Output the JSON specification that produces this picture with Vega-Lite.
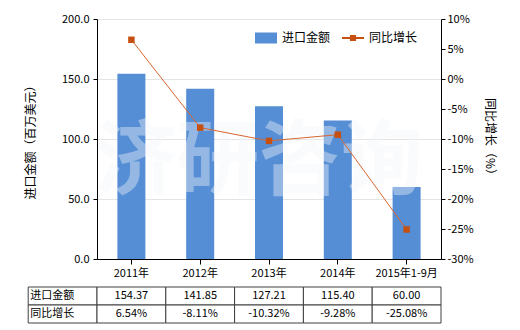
{
  "$schema": "https://vega.github.io/schema/vega-lite/v6.json",
  "padding": {"left": 24, "top": 13, "right": 5, "bottom": 5},
  "background": "white",
  "config": {
    "font": "Noto Sans CJK SC",
    "view": {"stroke": null},
    "axis": {"labelColor": "#000", "titleColor": "#000", "domainColor": "#000", "tickColor": "#000", "labelFontSize": 11, "titleFontSize": 12, "titleFontWeight": "normal", "labelFont": "Noto Sans CJK SC", "titleFont": "Noto Sans CJK SC", "labelOverlap": false},
    "legend": {"labelFont": "Noto Sans CJK SC", "labelColor": "#000"}
  },
  "datasets": {
    "main": [
      {"year": "2011年", "amount": 154.37, "yoy": 6.54},
      {"year": "2012年", "amount": 141.85, "yoy": -8.11},
      {"year": "2013年", "amount": 127.21, "yoy": -10.32},
      {"year": "2014年", "amount": 115.40, "yoy": -9.28},
      {"year": "2015年1-9月", "amount": 60.00, "yoy": -25.08}
    ],
    "table": [
      {"row": "进口金额", "col": "header", "text": "进口金额"},
      {"row": "同比增长", "col": "header", "text": "同比增长"},
      {"row": "进口金额", "col": "2011年", "text": "154.37"},
      {"row": "进口金额", "col": "2012年", "text": "141.85"},
      {"row": "进口金额", "col": "2013年", "text": "127.21"},
      {"row": "进口金额", "col": "2014年", "text": "115.40"},
      {"row": "进口金额", "col": "2015年1-9月", "text": "60.00"},
      {"row": "同比增长", "col": "2011年", "text": "6.54%"},
      {"row": "同比增长", "col": "2012年", "text": "-8.11%"},
      {"row": "同比增长", "col": "2013年", "text": "-10.32%"},
      {"row": "同比增长", "col": "2014年", "text": "-9.28%"},
      {"row": "同比增长", "col": "2015年1-9月", "text": "-25.08%"}
    ]
  },
  "spacing": 8,
  "vconcat": [
    {
      "width": 344,
      "height": 240,
      "layer": [
        {
          "layer": [
            {
              "data": {"name": "main"},
              "mark": {"type": "bar", "size": 28},
              "encoding": {
                "x": {"field": "year", "type": "nominal", "sort": null, "scale": {"paddingInner": 0, "paddingOuter": 0}, "axis": {"title": null, "labelAngle": 0, "labelPadding": 3, "tickSize": 5, "grid": false}},
                "y": {"field": "amount", "type": "quantitative", "title": "进口金额（百万美元）", "scale": {"domain": [0, 200]}, "axis": {"title": "进口金额（百万美元）", "values": [0, 50, 100, 150, 200], "format": ".1f", "grid": true, "gridColor": "#e4e4e4", "tickSize": 4, "labelPadding": 4, "titlePadding": 24}},
                "color": {
                  "datum": "进口金额", "type": "nominal",
                  "scale": {"domain": ["进口金额", "同比增长"], "range": ["#558ed5", "#c5500f"]},
                  "legend": {
                    "orient": "none", "legendX": 158, "legendY": 8, "direction": "horizontal", "title": null,
                    "symbolSize": 484, "labelFontSize": 12, "labelOffset": 5, "columnPadding": 11,
                    "encode": {
                      "symbols": {
                        "update": {
                          "shape": {"signal": "datum.value === '进口金额' ? 'M-1,-0.5H1V0.5H-1Z' : 'M-1,-0.1H1V0.1H-1Z M-0.28,-0.28H0.28V0.28H-0.28Z'"},
                          "fill": {"signal": "datum.value === '进口金额' ? '#558ed5' : '#c5500f'"},
                          "strokeWidth": {"value": 0},
                          "opacity": {"value": 1}
                        }
                      }
                    }
                  }
                }
              }
            },
            {
              "data": {"values": [{"wm": "济研咨询"}]},
              "mark": {"type": "text", "fontSize": 82, "fontWeight": "bold", "fill": "#f4f6fa", "opacity": 0.4, "baseline": "middle", "dx": -10},
              "encoding": {
                "x": {"datum": "2013年", "type": "nominal"},
                "y": {"datum": 80, "type": "quantitative", "title": "进口金额（百万美元）", "axis": {"title": "进口金额（百万美元）", "values": [0, 50, 100, 150, 200], "format": ".1f", "grid": true, "gridColor": "#e4e4e4", "tickSize": 4, "labelPadding": 4, "titlePadding": 24}},
                "text": {"field": "wm"}
              }
            }
          ]
        },
        {
          "layer": [
            {
              "data": {"name": "main"},
              "mark": {"type": "line", "strokeWidth": 1, "stroke": "#d8652e"},
              "encoding": {
                "x": {"field": "year", "type": "nominal", "sort": null},
                "y": {"field": "yoy", "type": "quantitative", "title": "同比增长（%）", "scale": {"domain": [-30, 10]}, "axis": {"orient": "right", "title": "同比增长（%）", "values": [-30, -25, -20, -15, -10, -5, 0, 5, 10], "labelExpr": "datum.value + '%'", "grid": false, "tickSize": 4, "labelPadding": 2, "titlePadding": 9}}
              }
            },
            {
              "data": {"name": "main"},
              "mark": {"type": "point", "shape": "square", "filled": true, "size": 42, "opacity": 1},
              "encoding": {
                "x": {"field": "year", "type": "nominal", "sort": null},
                "y": {"field": "yoy", "type": "quantitative", "title": "同比增长（%）", "axis": {"orient": "right", "title": "同比增长（%）", "values": [-30, -25, -20, -15, -10, -5, 0, 5, 10], "labelExpr": "datum.value + '%'", "grid": false, "tickSize": 4, "labelPadding": 2, "titlePadding": 9}},
                "color": {"datum": "同比增长", "type": "nominal"}
              }
            }
          ]
        }
      ],
      "resolve": {"scale": {"y": "independent"}}
    },
    {
      "width": 344,
      "height": 36,
      "data": {"name": "table"},
      "encoding": {
        "x": {"field": "col", "type": "nominal", "sort": null, "scale": {"domain": ["header", "2011年", "2012年", "2013年", "2014年", "2015年1-9月"], "range": [-68.8, 344], "paddingInner": 0, "paddingOuter": 0}, "axis": null},
        "y": {"field": "row", "type": "nominal", "sort": null, "scale": {"domain": ["进口金额", "同比增长"], "paddingInner": 0, "paddingOuter": 0}, "axis": null}
      },
      "layer": [
        {"mark": {"type": "rect", "fill": "white", "stroke": "#404040", "strokeWidth": 1}},
        {
          "transform": [{"filter": "datum.col !== 'header'"}],
          "mark": {"type": "text", "fontSize": 11, "baseline": "middle", "color": "#000"},
          "encoding": {"text": {"field": "text"}}
        },
        {
          "transform": [{"filter": "datum.col === 'header'"}],
          "mark": {"type": "text", "fontSize": 11, "baseline": "middle", "align": "left", "dx": 2, "color": "#000"},
          "encoding": {"x": {"field": "col", "type": "nominal", "bandPosition": 0}, "text": {"field": "text"}}
        }
      ]
    }
  ]
}
